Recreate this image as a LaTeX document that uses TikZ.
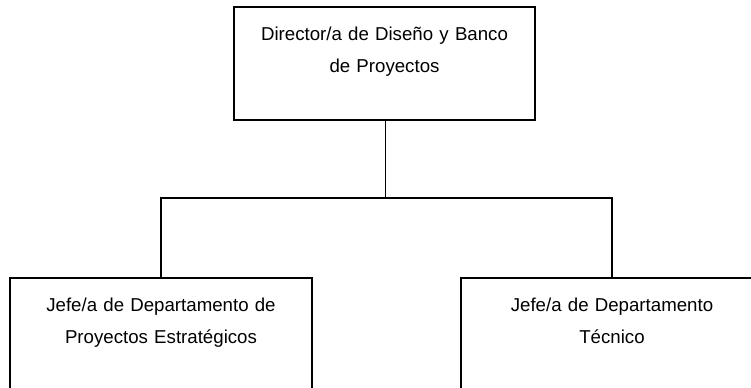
\documentclass[tikz,border=0pt]{standalone}
\usepackage{fontspec}
\setmainfont{Liberation Sans}
\usepackage{tikz}

\tikzset{
  cargo/.style={draw, line width=1.4pt, inner sep=0pt, anchor=north,
    text width=#1, minimum width=#1, align=center,
    text height=25.5pt, text depth=59.25pt,
    font=\fontsize{14}{24}\selectfont},
  enlace/.style={line width=1.4pt}
}

\begin{document}
\begin{tikzpicture}[x=0.75pt, y=-0.75pt]
    \useasboundingbox (0,0) rectangle (751,387);
    \clip (0,0) rectangle (751,387);
    % cargos
    \node[cargo=225.75pt] (director) at (384.5,6) {Director/a de Dise\~no y Banco\\de Proyectos};
    \node[cargo=226.5pt] (jefeEst) at (161,277) {Jefe/a de Departamento de\\Proyectos Estrat\'egicos};
    \node[cargo=226.5pt] (jefeTec) at (612,277) {Jefe/a de Departamento\\T\'ecnico};
    % lineas
    \coordinate (rama) at (385.5,198);
    \draw[enlace] (director.south -| rama) -- (rama);
    \draw[enlace] (jefeEst.north) -- ++(0,-79) -| (jefeTec.north);
\end{tikzpicture}
\end{document}
